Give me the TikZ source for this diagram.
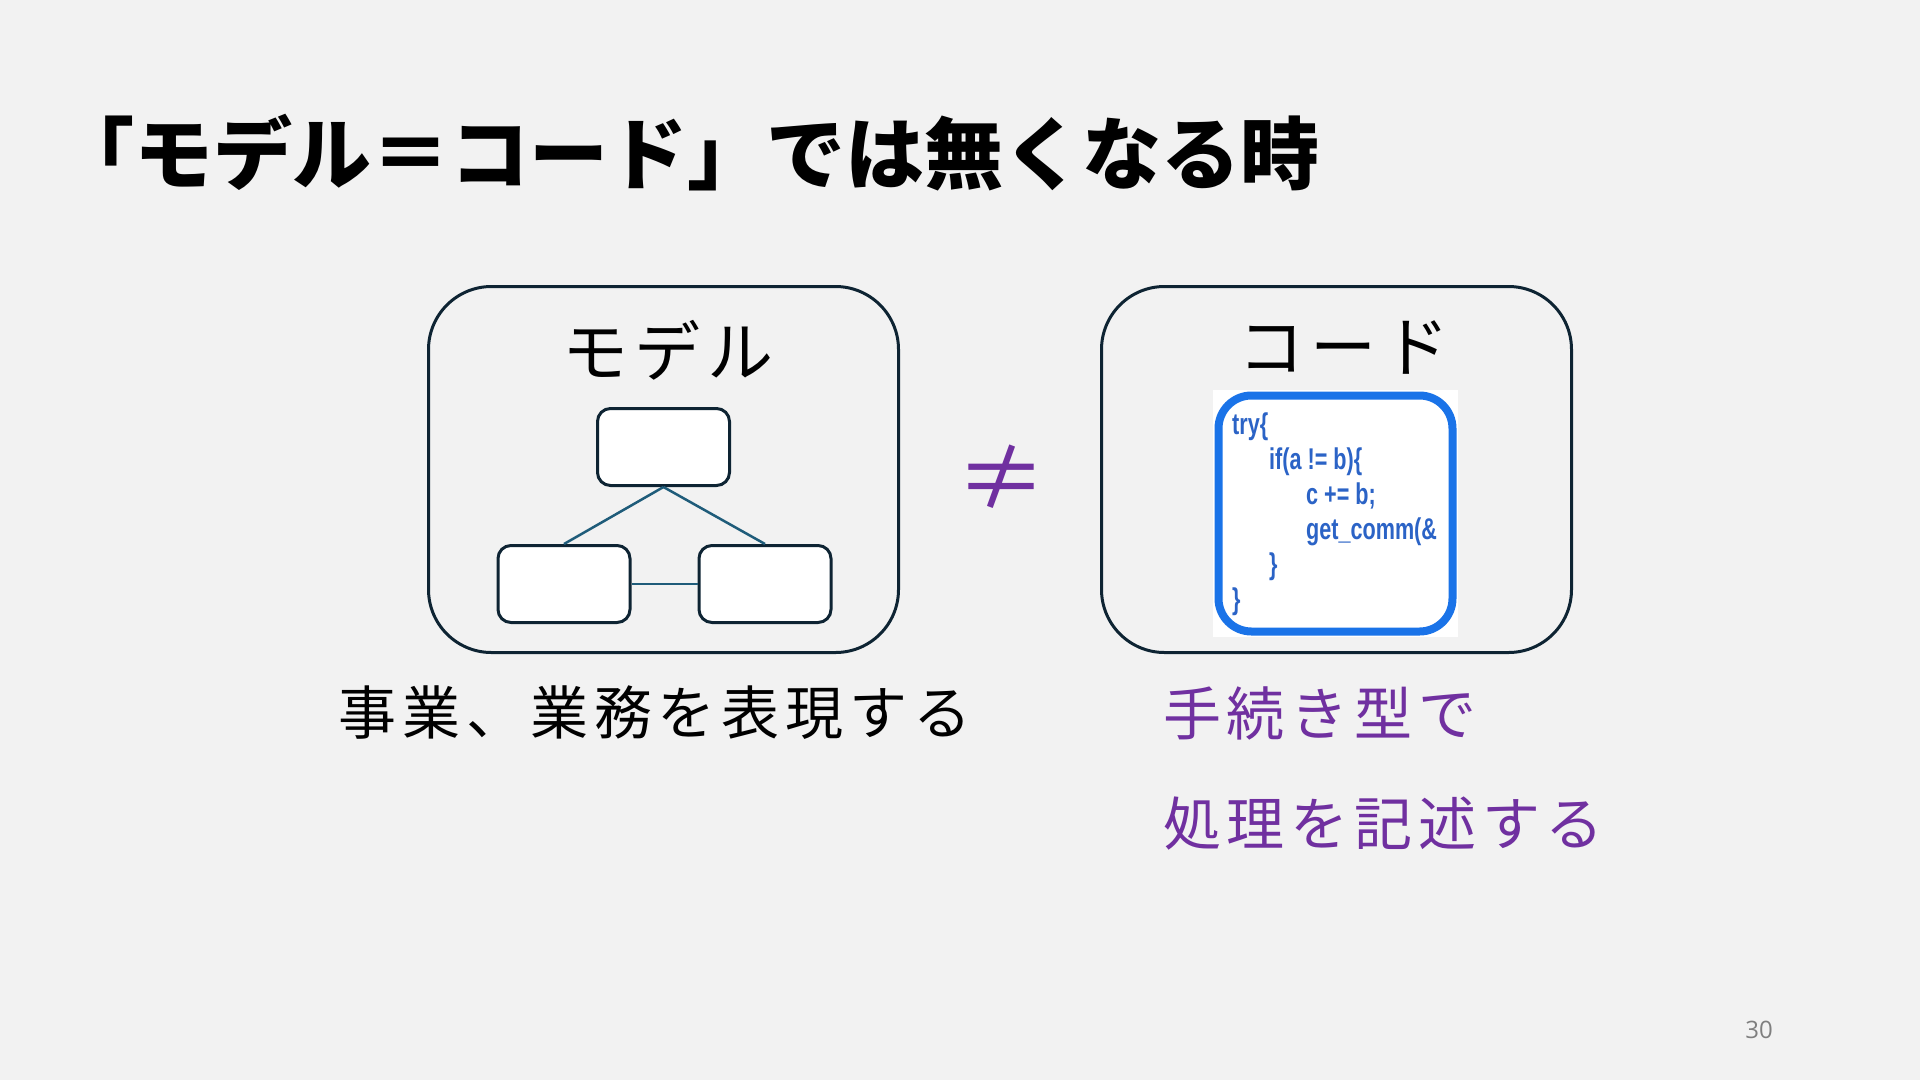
\documentclass[tikz,border=0pt]{standalone}
\usepackage{fontspec}
\usepackage{xcolor}
\newfontfamily\jpfont[LetterSpace=10]{Noto Sans CJK JP}
\newfontfamily\jptitle{Noto Sans CJK JP}
\newfontfamily\codefont[FakeStretch=0.72]{Liberation Sans}
\newfontfamily\numfont{Open Sans}
\definecolor{slidebg}{HTML}{F2F2F2}
\definecolor{boxline}{HTML}{0E2433}
\definecolor{linkcol}{HTML}{1F5C7A}
\definecolor{myviolet}{HTML}{7030A0}
\definecolor{codeframe}{HTML}{1A73E8}
\definecolor{codetext}{HTML}{2B63C6}
\definecolor{pagegray}{HTML}{7F7F7F}

\begin{document}
\begin{tikzpicture}[x=1pt, y=-1pt,
  frame/.style={draw=boxline, line width=3pt, rounded corners=63pt, minimum width=470pt, minimum height=366pt},
  cell/.style={draw=boxline, fill=white, line width=3pt, rounded corners=13pt, minimum width=132pt, minimum height=77pt},
  link/.style={linkcol, line width=2.5pt},
  jp/.style={inner sep=0pt, font=\jpfont\fontsize{58}{62}\selectfont},
  boxlabel/.style={inner sep=0pt, font=\jpfont\fontsize{66}{70}\selectfont}
]
\fill[slidebg] (0,0) rectangle (1920,1080);

% title
\node[anchor=west, inner sep=0pt, font=\jptitle\bfseries\fontsize{79}{83}\selectfont] (TT) at (55,153) {「モデル＝コード」では無くなる時};

% model side
\node[frame] (M) at (663.5,469.5) {};
\node[boxlabel] (ML) at (668,350) {モデル};
\node[cell] (T) at (663.5,447) {};
\node[cell] (L) at (564,584) {};
\node[cell] (R) at (765,584) {};
\draw[link] (T.south) -- (L.north);
\draw[link] (T.south) -- (R.north);
\draw[link] (L.east) -- (R.west);

\node[font=\jpfont\fontsize{90}{90}\selectfont, text=myviolet, inner sep=0pt] (NE) at (1001,478) {≠};

% code side
\node[frame] (C) at (1336.5,469.5) {};
\node[boxlabel] (CL) at (1344,347) {コード};
\node[fill=white, minimum width=245pt, minimum height=247pt, inner sep=0pt] (CW) at (1335.5,513.5) {};
\node[draw=codeframe, line width=8pt, rounded corners=33pt, minimum width=234pt, minimum height=236pt] (CF) at (CW) {};
\node[anchor=north west, align=left, inner sep=0pt, text=codetext,
      font=\codefont\bfseries\fontsize{30}{35}\selectfont] (CT) at (1232,413)
  {try\{\\
   \hspace*{37pt}if(a != b)\{\\
   \hspace*{74pt}c += b;\\
   \hspace*{74pt}get\_comm(\&\\
   \hspace*{37pt}\}\\
   \}};

% captions
\node[jp] (MD) at (655,713) {事業、業務を表現する};
\node[jp, anchor=west, text=myviolet] (CD1) at (1163,713) {手続き型で};
\node[jp, anchor=west, text=myviolet] (CD2) at (1163,824) {処理を記述する};

\node[font=\numfont\fontsize{24}{26}\selectfont, text=pagegray, inner sep=0pt] (PG) at (1759,1030) {30};
\end{tikzpicture}
\end{document}
